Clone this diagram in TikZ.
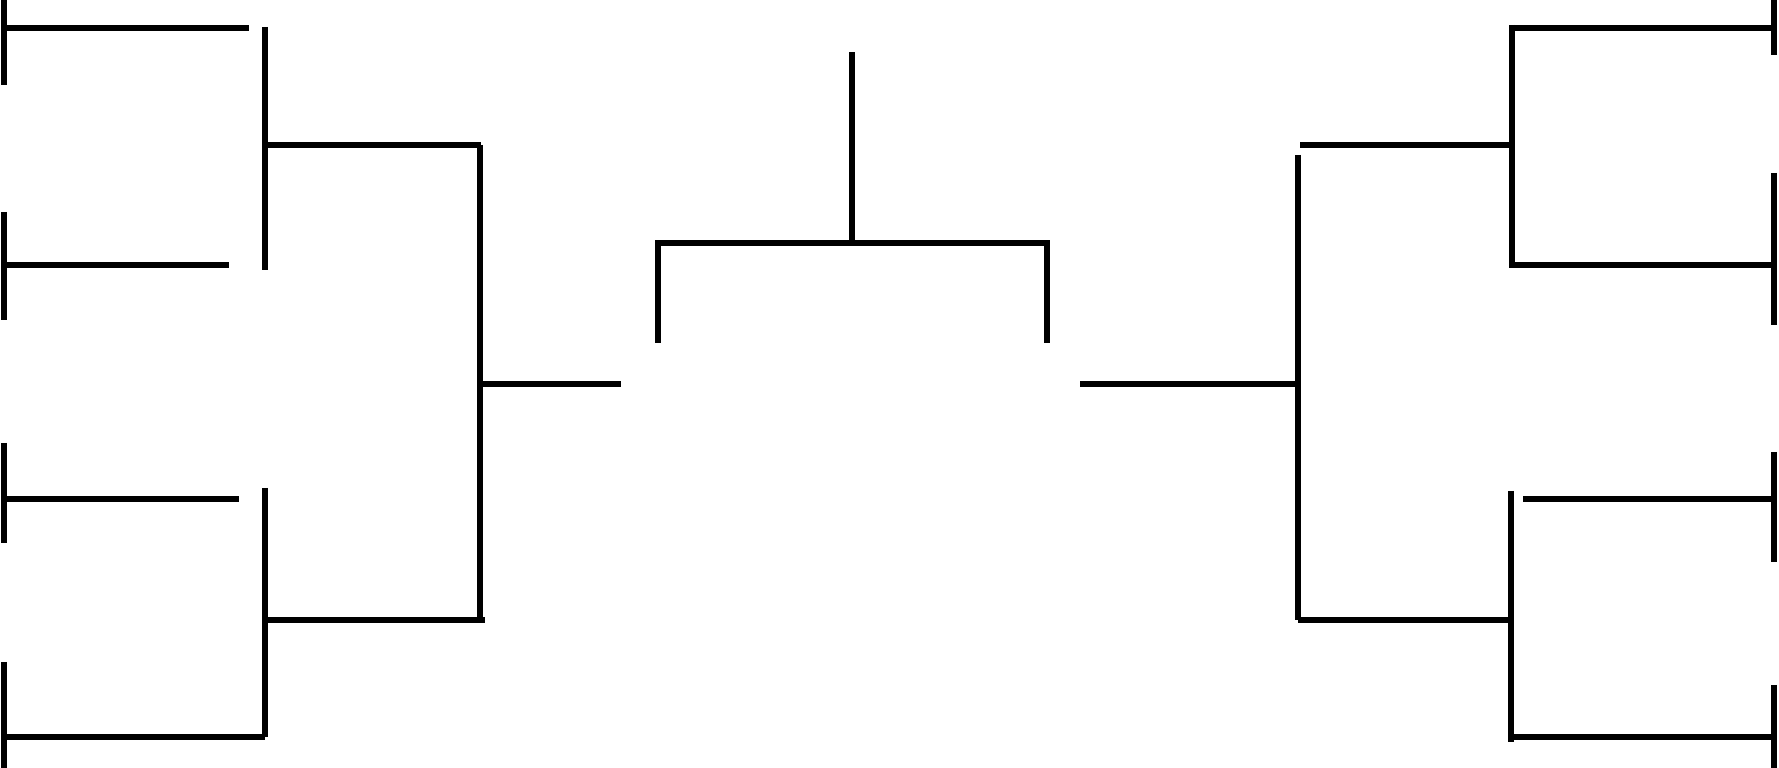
\documentclass[tikz,border=0pt]{standalone}
\usetikzlibrary{positioning}

\begin{document}
\begin{tikzpicture}[
    x=0.01cm, y=-0.01cm,
    bar/.style={line width=1.65pt, black},
    seedbar/.style={line width=1.8pt, black}
]

\useasboundingbox (0,0) rectangle (1779,768);

% Left side: first round slots
\coordinate (l1) at (4,28);   \coordinate (l1e) at (249,28);
\coordinate (l2) at (4,265);  \coordinate (l2e) at (229,265);
\coordinate (l3) at (4,499);  \coordinate (l3e) at (239,499);
\coordinate (l4) at (4,737);  \coordinate (l4e) at (265,737);

% Left side: second round
\coordinate (lq1t) at (265,27);  \coordinate (lq1b) at (265,270);
\coordinate (lq2t) at (265,488); \coordinate (lq2b) at (265,737);
\coordinate (lq1) at (265,145);  \coordinate (lq1e) at (481,145);
\coordinate (lq2) at (265,620);  \coordinate (lq2e) at (485,620);

% Left side: semi final
\coordinate (lst) at (480,145);  \coordinate (lsb) at (480,620);
\coordinate (ls) at (480,384);   \coordinate (lse) at (621,384);

% Final
\coordinate (fl) at (658,343);   \coordinate (flt) at (658,243);
\coordinate (fr) at (1047,343);  \coordinate (frt) at (1047,243);
\coordinate (fc) at (852,243);   \coordinate (win) at (852,52);

% Right side: semi final
\coordinate (rse) at (1080,384); \coordinate (rs) at (1298,384);
\coordinate (rst) at (1298,155); \coordinate (rsb) at (1298,620);

% Right side: second round
\coordinate (rq1e) at (1300,145); \coordinate (rq1) at (1512,145);
\coordinate (rq2e) at (1298,620); \coordinate (rq2) at (1511,620);
\coordinate (rq1t) at (1512,25);  \coordinate (rq1b) at (1512,268);
\coordinate (rq2t) at (1511,491); \coordinate (rq2b) at (1511,742);

% Right side: first round slots
\coordinate (r1e) at (1512,28);  \coordinate (r1) at (1774,28);
\coordinate (r2e) at (1515,265); \coordinate (r2) at (1774,265);
\coordinate (r3e) at (1523,499); \coordinate (r3) at (1774,499);
\coordinate (r4e) at (1513,737); \coordinate (r4) at (1774,737);

% Seed ticks at the outer edges
\draw[seedbar] (4,0) -- (4,85);
\draw[seedbar] (4,212) -- (4,320);
\draw[seedbar] (4,443) -- (4,543);
\draw[seedbar] (4,662) -- (4,768);
\draw[seedbar] (1774,0) -- (1774,55);
\draw[seedbar] (1774,173) -- (1774,325);
\draw[seedbar] (1774,452) -- (1774,562);
\draw[seedbar] (1774,685) -- (1774,768);

% Edges of the left half
\draw[bar] (l1) -- (l1e);
\draw[bar] (l2) -- (l2e);
\draw[bar] (l3) -- (l3e);
\draw[bar] (l4) -- (l4e);
\draw[bar] (lq1t) -- (lq1b);
\draw[bar] (lq2t) -- (lq2b);
\draw[bar] (lq1) -- (lq1e);
\draw[bar] (lq2) -- (lq2e);
\draw[bar] (lst) -- (lsb);
\draw[bar] (ls) -- (lse);

% Edges of the final
\draw[bar] (fl) -- (flt) -- (frt) -- (fr);
\draw[bar] (fc) -- (win);

% Edges of the right half
\draw[bar] (rse) -- (rs);
\draw[bar] (rst) -- (rsb);
\draw[bar] (rq1e) -- (rq1);
\draw[bar] (rq2e) -- (rq2);
\draw[bar] (rq1t) -- (rq1b);
\draw[bar] (rq2t) -- (rq2b);
\draw[bar] (r1e) -- (r1);
\draw[bar] (r2e) -- (r2);
\draw[bar] (r3e) -- (r3);
\draw[bar] (r4e) -- (r4);

\end{tikzpicture}
\end{document}
